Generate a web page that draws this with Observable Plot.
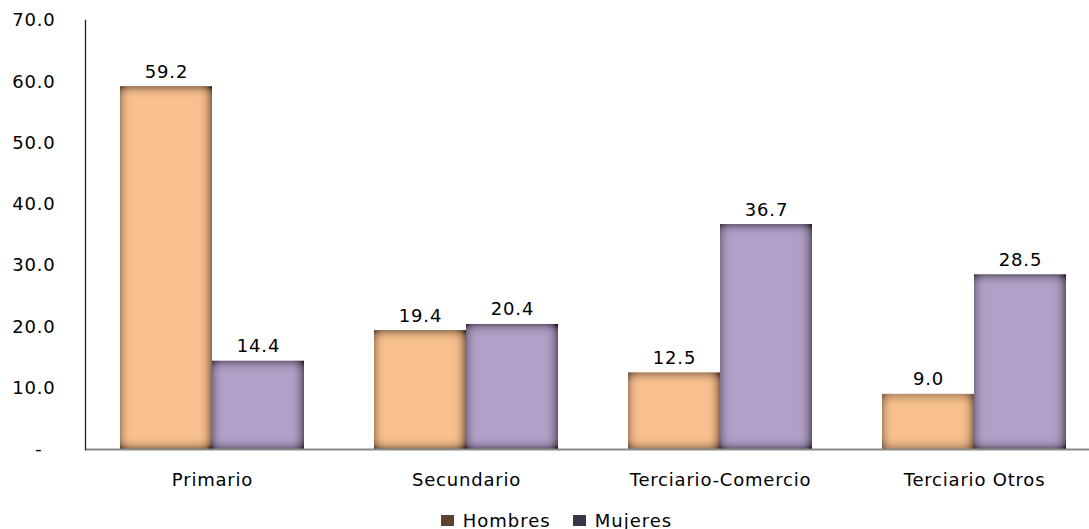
<!DOCTYPE html>
<html>
<head>
<meta charset="utf-8">
<script src="https://cdn.jsdelivr.net/npm/d3@7"></script>
<script src="https://cdn.jsdelivr.net/npm/@observablehq/plot@0.6"></script>
<style>
  html, body { margin: 0; padding: 0; background: #fff; overflow: hidden; }
  body { width: 1089px; height: 529px; position: relative; font-family: "DejaVu Sans", Verdana, sans-serif; }
  #chart svg { display: block; overflow: hidden; }
  #legend { position: absolute; left: 24px; right: 0; top: 512px; height: 17px; line-height: 17px;
            display: flex; justify-content: center; align-items: center; gap: 22px;
            font-size: 18px; letter-spacing: 1px; color: #000; }
  #legend .item { display: flex; align-items: center; gap: 9px; }
  #legend .sw { width: 13px; height: 11px; display: inline-block; }
</style>
</head>
<body>
<div id="chart"></div>
<div id="legend"></div>
<script>
const categories = ["Primario", "Secundario", "Terciario-Comercio", "Terciario Otros"];
const series = ["Hombres", "Mujeres"];
const hombres = [59.2, 19.4, 12.5, 9.0];
const mujeres = [14.4, 20.4, 36.7, 28.5];
const yTicks = [0, 10, 20, 30, 40, 50, 60, 70];
const barColors = ["#F9C18F", "#B1A0C7"];
const legendColors = ["#5B4330", "#3B3547"];

const data = [];
categories.forEach((c, i) => {
  data.push({category: c, serie: "Hombres", value: hombres[i]});
  data.push({category: c, serie: "Mujeres", value: mujeres[i]});
});

const font = "DejaVu Sans";
const plot = Plot.plot({
  width: 1089,
  height: 502,
  marginLeft: 83,
  marginRight: -13,
  marginTop: 20,
  marginBottom: 53,
  style: {fontFamily: font, fontSize: "18px", color: "#000", letterSpacing: "0.8px", background: "#fff"},
  fx: {domain: categories, padding: 0, label: null},
  x: {domain: series, paddingInner: 0, paddingOuter: 0.377, axis: null},
  y: {domain: [0, 70], axis: null},
  color: {domain: series, range: barColors},
  marks: [
    Plot.barY(data, {fx: "category", x: "serie", y: "value", fill: "serie", inset: 0}),
    Plot.text(data, {fx: "category", x: "serie", y: "value", text: d => d.value.toFixed(1),
      dy: -9, lineAnchor: "bottom", fill: "#000", fontSize: 18}),
    Plot.ruleY([0], {stroke: "#8a8a8a", strokeWidth: 2}),
    Plot.frame({anchor: "left", facetAnchor: "left", stroke: "#222", strokeWidth: 1.3}),
    Plot.axisY({ticks: yTicks, tickSize: 0, tickPadding: 30, fontSize: 18, label: null,
      tickFormat: d => d === 0 ? "-\u00a0\u00a0" : d.toFixed(1)}),
    Plot.axisFx({anchor: "bottom", tickSize: 0, tickPadding: 24, fontSize: 18, label: null})
  ]
});

// inset shadow filter for 3D look
const ns = "http://www.w3.org/2000/svg";
const defs = document.createElementNS(ns, "defs");
defs.innerHTML = `
<filter id="inset" x="-10%" y="-10%" width="120%" height="120%">
  <feFlood flood-color="#140c05" flood-opacity="1" result="flood"/>
  <feComposite in="flood" in2="SourceAlpha" operator="out" result="outside"/>
  <feOffset in="outside" dx="-1" dy="0" result="off"/>
  <feGaussianBlur in="off" stdDeviation="6" result="blur"/>
  <feComponentTransfer in="blur" result="boost">
    <feFuncA type="linear" slope="1.45" intercept="0"/>
  </feComponentTransfer>
  <feComposite in="boost" in2="SourceAlpha" operator="in" result="shadow"/>
  <feMerge><feMergeNode in="SourceGraphic"/><feMergeNode in="shadow"/></feMerge>
</filter>`;
plot.insertBefore(defs, plot.firstChild);
plot.querySelectorAll('g[aria-label="bar"] rect').forEach(r => r.setAttribute("filter", "url(#inset)"));

document.getElementById("chart").appendChild(plot);

const legend = document.getElementById("legend");
series.forEach((s, i) => {
  const item = document.createElement("span");
  item.className = "item";
  const sw = document.createElement("span");
  sw.className = "sw";
  sw.style.background = legendColors[i];
  item.appendChild(sw);
  item.appendChild(document.createTextNode(s));
  legend.appendChild(item);
});
</script>
</body>
</html>
